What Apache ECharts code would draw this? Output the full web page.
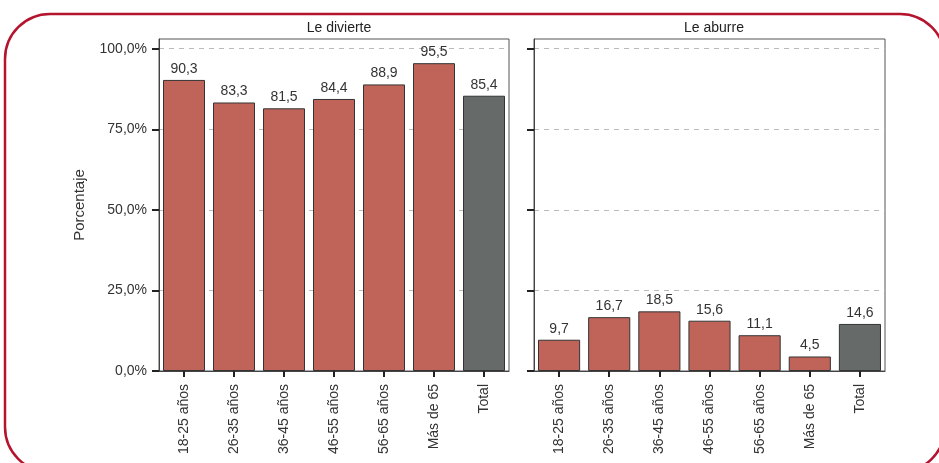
<!DOCTYPE html>
<html>
<head>
<meta charset="utf-8">
<script src="https://cdn.jsdelivr.net/npm/echarts@6/dist/echarts.min.js"></script>
<style>
html,body{margin:0;padding:0;background:#fff;}
#c{width:939px;height:463px;}
</style>
</head>
<body>
<div id="c"></div>
<script>
var categories = ['18-25 años','26-35 años','36-45 años','46-55 años','56-65 años','Más de 65','Total'];
var divierte = [90.3, 83.3, 81.5, 84.4, 88.9, 95.5, 85.4];
var aburre = [9.7, 16.7, 18.5, 15.6, 11.1, 4.5, 14.6];
var panelTitles = ['Le divierte', 'Le aburre'];
var yTicks = [0, 25, 50, 75, 100];

var FONT = '"Liberation Sans", Arial, Helvetica, sans-serif';
var RED = '#C0645A', GREY = '#666B6A';

function barData(vals){
  return vals.map(function(v, i){
    return {value: v, itemStyle: {color: i === vals.length - 1 ? GREY : RED}};
  });
}
function fmt(v){ return v.toFixed(1).replace('.', ','); }

var grids = [
  {left: 159, right: 430, top: 39, bottom: 92},
  {left: 534, right: 54, top: 39, bottom: 92}
];

function xAx(i){
  return {
    type: 'category', gridIndex: i, data: categories,
    axisLine: {show: true, lineStyle: {color: '#444', width: 1}},
    axisTick: {show: true, alignWithLabel: true, length: 6, lineStyle: {color: '#222', width: 2}},
    axisLabel: {rotate: 90, fontFamily: FONT, fontSize: 14, color: '#333', margin: 13}
  };
}
function yAx(i){
  return {
    type: 'value', gridIndex: i, min: 0, max: 103,
    name: i === 0 ? 'Porcentaje' : '',
    nameLocation: 'middle', nameGap: 72,
    nameTextStyle: {fontFamily: FONT, fontSize: 15, color: '#333'},
    axisLine: {show: true, lineStyle: {color: '#444', width: 1}},
    axisTick: {show: true, length: 7, customValues: yTicks, lineStyle: {color: '#222', width: 2}},
    axisLabel: {show: i === 0, customValues: yTicks, fontFamily: FONT, fontSize: 14, color: '#333', margin: 12,
      formatter: function(v){ return v.toFixed(1).replace('.', ',') + '%'; }},
    splitLine: {show: true, lineStyle: {color: '#bbb', type: [5, 5], width: 1}}
  };
}

function series(i, vals){
  return {
    type: 'bar', xAxisIndex: i, yAxisIndex: i, data: barData(vals),
    barCategoryGap: '16%',
    itemStyle: {borderColor: '#333', borderWidth: 1},
    label: {show: true, position: 'top', distance: 4, fontFamily: FONT, fontSize: 14, color: '#333',
      formatter: function(p){ return fmt(p.value); }}
  };
}

var chart = echarts.init(document.getElementById('c'), null, {renderer: 'canvas'});
chart.setOption({
  animation: false,
  backgroundColor: '#fff',
  textStyle: {fontFamily: FONT},
  title: [
    {text: panelTitles[0], left: 334, top: 16, textAlign: 'center', textStyle: {fontFamily: FONT, fontSize: 14, fontWeight: 'normal', color: '#222'}},
    {text: panelTitles[1], left: 709, top: 16, textAlign: 'center', textStyle: {fontFamily: FONT, fontSize: 14, fontWeight: 'normal', color: '#222'}}
  ],
  grid: grids.map(function(g){ return Object.assign({show: true, borderColor: '#555', borderWidth: 1, backgroundColor: 'transparent'}, g); }),
  xAxis: [xAx(0), xAx(1)],
  yAxis: [yAx(0), yAx(1)],
  series: [series(0, divierte), series(1, aburre)],
  graphic: [{
    type: 'rect', silent: true, z: 100,
    shape: {x: 5, y: 14, width: 940, height: 458, r: 45},
    style: {fill: 'none', stroke: '#B5142E', lineWidth: 2.5}
  }]
});
</script>
</body>
</html>
